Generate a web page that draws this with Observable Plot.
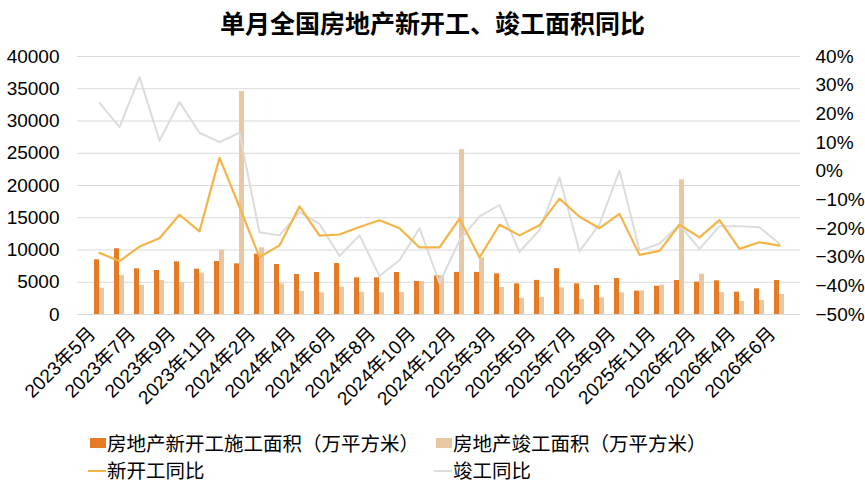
<!DOCTYPE html>
<html>
<head>
<meta charset="utf-8">
<script src="https://cdn.jsdelivr.net/npm/d3@7"></script>
<script src="https://cdn.jsdelivr.net/npm/@observablehq/plot@0.6"></script>
<style>
  html, body { margin: 0; padding: 0; background: #fff; }
  body { width: 865px; height: 487px; position: relative; overflow: hidden;
         font-family: "Liberation Sans", "Noto Sans CJK SC", sans-serif; color: #000; }
  #title { position: absolute; left: 0; top: 0; width: 865px; height: 45px; line-height: 45px;
           text-align: center; font-size: 25px; font-weight: bold;
           font-family: "Noto Sans CJK SC", sans-serif; }
  #chart { position: absolute; left: 0; top: 45px; }
  .lg { position: absolute; font-size: 19.5px; line-height: 28px; height: 28px; white-space: nowrap;
        font-family: "Liberation Sans", "Noto Sans CJK SC", sans-serif; }
  .sw { position: absolute; }
</style>
</head>
<body>
<div id="title">单月全国房地产新开工、竣工面积同比</div>
<div id="chart"></div>
<div id="legend"></div>
<script>
const categories = [
  "2023年5月","2023年6月","2023年7月","2023年8月","2023年9月","2023年10月","2023年11月","2023年12月",
  "2024年2月","2024年3月","2024年4月","2024年5月","2024年6月","2024年7月","2024年8月","2024年9月","2024年10月","2024年11月","2024年12月",
  "2025年2月","2025年3月","2025年4月","2025年5月","2025年6月","2025年7月","2025年8月","2025年9月","2025年10月","2025年11月","2025年12月",
  "2026年2月","2026年3月","2026年4月","2026年5月","2026年6月"
];
// 房地产新开工施工面积（万平方米）
const newStartArea = [8480,10190,7080,6820,8160,7030,8220,7850,
  9350,7750,6200,6510,7900,5680,5680,6510,5120,6000,6530,
  6530,6300,4750,5290,7100,4750,4500,5580,3620,4390,5270,
  5010,5220,3460,3980,5270];
// 房地产竣工面积（万平方米）
const completionArea = [4080,6050,4500,5270,4960,6410,9970,34570,
  10340,4750,3570,3360,4240,3460,3360,3410,5120,6000,25560,
  8790,4190,2500,2660,4130,2330,2580,3360,3670,4550,20880,
  6250,3410,2020,2170,3100];
// 新开工同比 (%)
const newStartYoY = [-28.5,-31.4,-26.3,-23.4,-15.2,-21.0,4.7,-12.5,
  -30.0,-25.9,-12.3,-22.5,-22.1,-19.5,-17.1,-19.9,-26.6,-26.6,-16.6,
  -30.1,-18.7,-22.4,-18.9,-9.6,-15.9,-19.9,-14.9,-29.2,-27.8,-18.7,
  -23.1,-17.1,-27.1,-24.8,-26.0];
// 竣工同比 (%)
const completionYoY = [23.8,15.4,32.8,10.7,24.1,13.4,10.1,13.4,
  -21.3,-22.4,-14.3,-18.4,-29.6,-22.4,-36.6,-31.1,-19.9,-39.0,-24.2,
  -15.8,-11.8,-28.2,-20.5,-2.2,-28.0,-18.5,0.2,-27.7,-25.3,-18.7,
  -27.1,-19.2,-19.2,-19.6,-25.3];
const leftTicks = [0,5000,10000,15000,20000,25000,30000,35000,40000];
const pctTicks = [-50,-40,-30,-20,-10,0,10,20,30,40];

const colors = {newBar:"#E57B25", compBar:"#E8C8A3", newLine:"#F5B447", compLine:"#DCDCDC"};

const LMAX = 40000, PMIN = -50, PMAX = 40;
const toLeft = p => (p - PMIN) / (PMAX - PMIN) * LMAX;
const fmtPct = p => (p < 0 ? "\u2212" + Math.abs(p) : String(p)) + "%";

const data = categories.map((c, i) => ({
  c, a: newStartArea[i], b: completionArea[i], ya: newStartYoY[i], yb: completionYoY[i]
}));

const font = "Liberation Sans, Noto Sans CJK SC, sans-serif";

const chart = Plot.plot({
  width: 865,
  height: 385,
  marginLeft: 77,
  marginRight: 65,
  marginTop: 11,
  marginBottom: 116,
  style: {fontFamily: font, fontSize: "19px", color: "#000", background: "#fff"},
  x: {type: "band", domain: categories, paddingInner: 0.516, paddingOuter: 0.258, axis: null},
  y: {domain: [0, LMAX], axis: null},
  marks: [
    Plot.gridY(leftTicks, {stroke: "#d9d9d9", strokeOpacity: 1, strokeWidth: 1}),
    Plot.barY(data, {x: "c", y: "a", fill: colors.newBar, insetRight: 5}),
    Plot.barY(data, {x: "c", y: "b", fill: colors.compBar, insetLeft: 5}),
    Plot.line(data, {x: "c", y: d => toLeft(d.yb), stroke: colors.compLine, strokeWidth: 2}),
    Plot.line(data, {x: "c", y: d => toLeft(d.ya), stroke: colors.newLine, strokeWidth: 2.2}),
    Plot.axisY(leftTicks, {anchor: "left", tickSize: 0, tickPadding: 18, fontSize: 19,
      tickFormat: d => String(d), label: null}),
    Plot.axisY(pctTicks.map(toLeft), {anchor: "right", tickSize: 0, tickPadding: 15, fontSize: 19,
      tickFormat: d => fmtPct(Math.round(d / LMAX * (PMAX - PMIN) + PMIN)), label: null}),
    Plot.axisX(categories.filter((_, i) => i % 2 === 0), {tickSize: 0, tickPadding: 16, dx: -7, tickRotate: -45,
      fontSize: 19, label: null})
  ]
});
document.getElementById("chart").appendChild(chart);

// legend (HTML, below the SVG)
const legendItems = [
  {label: "房地产新开工施工面积（万平方米）", color: colors.newBar, kind: "rect", left: 90, top: 430},
  {label: "房地产竣工面积（万平方米）", color: colors.compBar, kind: "rect", left: 436, top: 430},
  {label: "新开工同比", color: colors.newLine, kind: "line", left: 90, top: 457},
  {label: "竣工同比", color: colors.compLine, kind: "line", left: 436, top: 457}
];
const lg = document.getElementById("legend");
for (const it of legendItems) {
  const sw = document.createElement("div");
  sw.className = "sw";
  sw.style.background = it.color;
  if (it.kind === "rect") {
    sw.style.left = it.left + "px"; sw.style.top = (it.top + 8) + "px";
    sw.style.width = "16px"; sw.style.height = "10px";
  } else {
    sw.style.left = (it.left - 2) + "px"; sw.style.top = (it.top + 13) + "px";
    sw.style.width = "18px"; sw.style.height = "2px";
  }
  lg.appendChild(sw);
  const t = document.createElement("div");
  t.className = "lg";
  t.style.left = (it.left + 17) + "px"; t.style.top = it.top + "px";
  t.textContent = it.label;
  lg.appendChild(t);
}
</script>
</body>
</html>
